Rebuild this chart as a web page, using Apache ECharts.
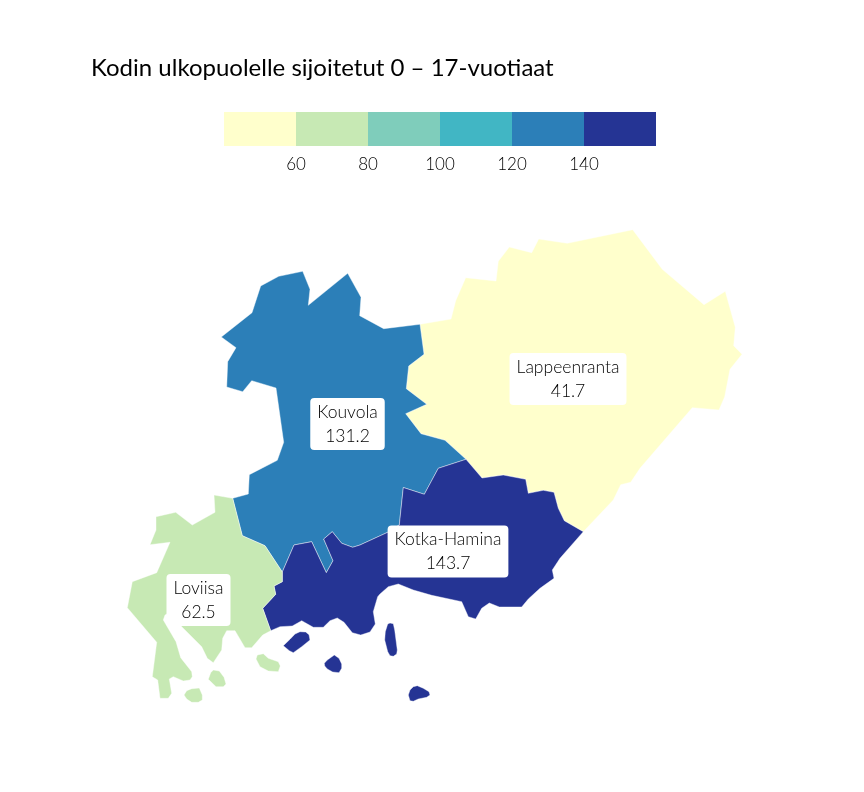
<!DOCTYPE html>
<html>
<head>
<meta charset="utf-8">
<style>
html, body { margin: 0; padding: 0; background: #fff; }
#chart { width: 864px; height: 792px; }
</style>
<script src="https://cdn.jsdelivr.net/npm/echarts@6/dist/echarts.min.js"></script>
</head>
<body>
<div id="chart"></div>
<script>
var regionNames = ['Lappeenranta', 'Kouvola', 'Kotka-Hamina', 'Loviisa'];
var regionValues = [41.7, 131.2, 143.7, 62.5];
var scaleBreaks = [40, 60, 80, 100, 120, 140, 160];
var scaleColors = ['#ffffcc', '#c7e9b4', '#7fcdbb', '#41b6c4', '#2c7fb8', '#253494'];

// municipal outlines, x east / y down
var lappeenrantaShape = [[[420,324.3],[451,319],[455.7,300.7],[465.7,277.7],[496,281],[498.3,261.3],[509.3,247],[531.7,252.7],[538.7,239],[567.3,243.3],[632.7,229.7],[662.3,269.3],[704,304.7],[725.3,291.3],[735.3,327.3],[733.7,345.7],[742,354.3],[730,369.3],[724.7,396.7],[719,410],[692.3,407.7],[640,468.3],[630.7,482.3],[620.7,484.7],[613.3,500],[583.3,531.7],[564.3,520.7],[558.3,508.3],[554,492.3],[543.3,490.3],[528.3,493.3],[525.7,479.3],[503.3,475],[482,478],[466,459.3],[445,440.3],[421,433.7],[405.7,413.7],[426.7,404.3],[406.3,388.7],[408.7,366],[424,354.3]]];
var kouvolaShape = [[[302.7,271.3],[310,289.3],[308.3,305.3],[347.7,273.3],[361,297.3],[359.7,315.7],[383.7,328.7],[420,324.3],[424,354.3],[408.7,366],[406.3,388.7],[426.7,404.3],[405.7,413.7],[421,433.7],[445,440.3],[466,459.3],[438.3,468.3],[424.3,494.3],[403.3,487.5],[399.3,525],[387.7,532.3],[360,545],[352.7,547.3],[341.7,543.3],[332.3,531.7],[323.7,539],[333,560.7],[326.3,572.7],[311.7,541.7],[294,545],[282.3,572],[265,545.7],[242.3,535.7],[232.7,498.3],[248.3,494],[249.3,474.7],[277.3,460.3],[283.7,442.3],[276,388],[251.7,380.7],[242.7,391.7],[226.7,387],[227.7,361.7],[236,347.7],[221.3,337],[252,312.7],[260.7,286],[278.7,276.3]]];
var kotkaShape = [
  [[466,459.3],[482,478],[503.3,475],[525.7,479.3],[528.3,493.3],[543.3,490.3],[554,492.3],[558.3,508.3],[564.3,520.7],[583.3,531.7],[560,558.3],[552.3,570],[554,578.3],[540,588.3],[528.3,599],[521.7,607],[499.3,607],[489.3,603],[481.7,608.3],[475.7,619],[468.3,616.7],[461.7,601.7],[431.7,595.3],[413.3,590],[398.3,584],[388.3,586.7],[380,594],[377.7,596.7],[373.3,611.7],[375.3,624],[370,632],[360.7,635],[352.3,632.7],[344,622.3],[337.3,618],[330,620.7],[323.3,627.3],[313.3,627.3],[301.7,620.7],[292.3,626],[280,626.7],[270.7,630.7],[262.7,608.3],[275.7,594.3],[274,586],[282.3,581.7],[282.3,572],[294,545],[311.7,541.7],[326.3,572.7],[333,560.7],[323.7,539],[332.3,531.7],[341.7,543.3],[352.7,547.3],[360,545],[387.7,532.3],[399.3,525],[403.3,487.5],[424.3,494.3],[438.3,468.3]],
  [[283.3,645.7],[290,639.3],[295,634],[300,631.7],[305.7,632],[309,634.7],[310,640],[301.7,646.7],[293.3,652.7],[289.3,650.7]],
  [[324.3,663.3],[327.3,660],[334.3,655],[339,658.3],[341.7,664],[341.7,668.3],[339,672.7],[332.7,672],[327.3,669],[324.7,666]],
  [[387.7,624],[390,623],[393.3,623.7],[394.7,630],[397.3,650],[396.7,654],[393.3,656.3],[390,655.7],[387.7,651.7],[384.7,640],[385.3,631.7]],
  [[408.3,695],[410,690],[413.3,686.7],[417.3,685.7],[423.3,688.3],[429,691.7],[430,695],[426.7,697.3],[418.3,699],[413.3,701.3],[410,700.7]]
];
var loviisaShape = [
  [[232.7,498.3],[242.3,535.7],[265,545.7],[282.3,572],[282.3,581.7],[274,586],[275.7,594.3],[262.7,608.3],[270.7,630.7],[262.7,635],[251.7,647.7],[245,647.7],[235,630.7],[226.7,630.7],[222.7,638.3],[221.7,650],[213.3,662.7],[207.3,658.3],[201.7,646.7],[181.7,626.7],[175,610],[165,615],[163.3,620],[176,641.7],[180.7,657.7],[191.7,671.7],[192.3,676.7],[190,680],[183.3,681],[173.3,676.7],[169.3,679],[171.7,693.3],[168.3,698.3],[160,698.3],[157.7,680],[152.3,676.7],[156.7,642.3],[127.3,607.7],[132.3,581.7],[156.7,572.7],[170,542.3],[150,544.7],[156,530],[156,516.7],[175.7,512.3],[192.3,525],[215,512.3],[214,495]],
  [[208.3,679.3],[210.7,672.7],[213.3,670],[219.3,671],[224,677.3],[226,684],[223.3,686.7],[216,686.7]],
  [[184,695],[186.7,690.7],[191.7,688.7],[199.3,688],[202.3,695],[202.3,700],[198.3,702.3],[191.7,702.3],[186.7,699]],
  [[256,659],[257.3,655],[263.3,653.7],[268.3,658.3],[278.3,661.7],[280.3,666],[278.3,671.7],[268.3,671],[260,666.7]]
];
var regionShapes = [lappeenrantaShape, kouvolaShape, kotkaShape, loviisaShape];
var labelCentres = [[568, 379], [347.5, 424], [448, 551.5], [198.5, 600]];

function toGeo(p) { return [p[0], -p[1]]; }

var features = regionNames.map(function (name, i) {
  return {
    type: 'Feature',
    properties: { name: name, cp: toGeo(labelCentres[i]) },
    geometry: {
      type: 'MultiPolygon',
      coordinates: regionShapes[i].map(function (ring) { return [ring.map(toGeo)]; })
    }
  };
});
echarts.registerMap('alue', { type: 'FeatureCollection', features: features });

var myChart = echarts.init(document.getElementById('chart'), null, { renderer: 'canvas' });

var pieces = scaleColors.map(function (color, i) {
  return { min: scaleBreaks[i], max: scaleBreaks[i + 1], color: color };
});

// legend strip is a stacked bar on its own value axis
var legendSeries = scaleColors.map(function (color, i) {
  return {
    type: 'bar',
    stack: 'scale',
    barWidth: '100%',
    silent: true,
    itemStyle: { color: color },
    data: [i === 0 ? scaleBreaks[1] : scaleBreaks[i + 1] - scaleBreaks[i]]
  };
});

myChart.setOption({
  animation: false,
  textStyle: { fontFamily: 'Lato' },
  title: {
    text: 'Kodin ulkopuolelle sijoitetut 0 – 17-vuotiaat',
    left: 86,
    top: 51,
    textStyle: { fontFamily: 'Lato', fontSize: 24, fontWeight: 'normal', color: '#000' }
  },
  grid: { left: 224, top: 112, width: 432, height: 34 },
  xAxis: {
    type: 'value',
    min: 40,
    max: 160,
    interval: 20,
    axisLine: { show: false },
    axisTick: { show: false },
    splitLine: { show: false },
    axisLabel: {
      showMinLabel: false,
      showMaxLabel: false,
      margin: 10,
      fontFamily: 'Lato',
      fontSize: 17,
      fontWeight: 300,
      color: '#000'
    }
  },
  yAxis: { type: 'category', data: [''], show: false },
  visualMap: { show: false, type: 'piecewise', seriesIndex: 0, pieces: pieces },
  series: [{
    type: 'map',
    map: 'alue',
    roam: false,
    silent: true,
    aspectScale: 1,
    left: 127.3,
    top: 229.7,
    width: 614.7,
    height: 472.6,
    itemStyle: { borderColor: 'rgba(255,255,255,0.6)', borderWidth: 0.7 },
    label: {
      show: true,
      formatter: '{b}\n{c}',
      fontFamily: 'Lato',
      fontSize: 17.5,
      fontWeight: 300,
      lineHeight: 24,
      color: '#000',
      backgroundColor: '#fff',
      borderRadius: 4,
      padding: [3, 7, 1, 7]
    },
    data: regionNames.map(function (name, i) {
      return { name: name, value: regionValues[i] };
    })
  }].concat(legendSeries)
});
</script>
</body>
</html>
